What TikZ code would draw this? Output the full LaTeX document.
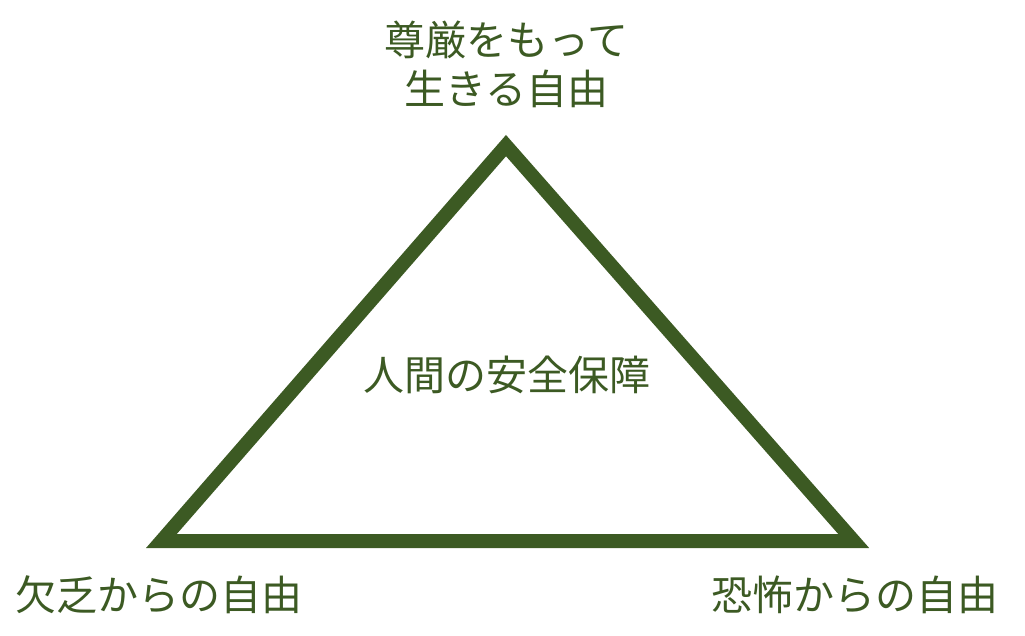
\documentclass[tikz,border=0pt]{standalone}
\usepackage{fontspec}
\setmainfont{Noto Sans CJK JP}
\definecolor{leaf}{RGB}{60,90,35}
\tikzset{
  lbl/.style={text=leaf, font=\fontsize{41}{49}\selectfont, inner sep=0pt, align=center},
  tri/.style={draw=leaf, line width=14pt, line join=miter}
}
\begin{document}
\begin{tikzpicture}[x=1pt,y=-1pt]
\useasboundingbox (0,0) rectangle (1025,635);
\coordinate (apex) at (506,145.6);
\coordinate (bl) at (161.4,541);
\coordinate (br) at (853.7,541);
\draw[tri] (apex) -- (bl) -- (br) -- cycle;
\node[lbl] (top) at (506.5,64.5) {尊厳をもって\\生きる自由};
\node[lbl] (mid) at (506.5,375) {人間の安全保障};
\node[lbl] (left) at (159.5,595) {欠乏からの自由};
\node[lbl] (right) at (855,595) {恐怖からの自由};
\end{tikzpicture}
\end{document}
